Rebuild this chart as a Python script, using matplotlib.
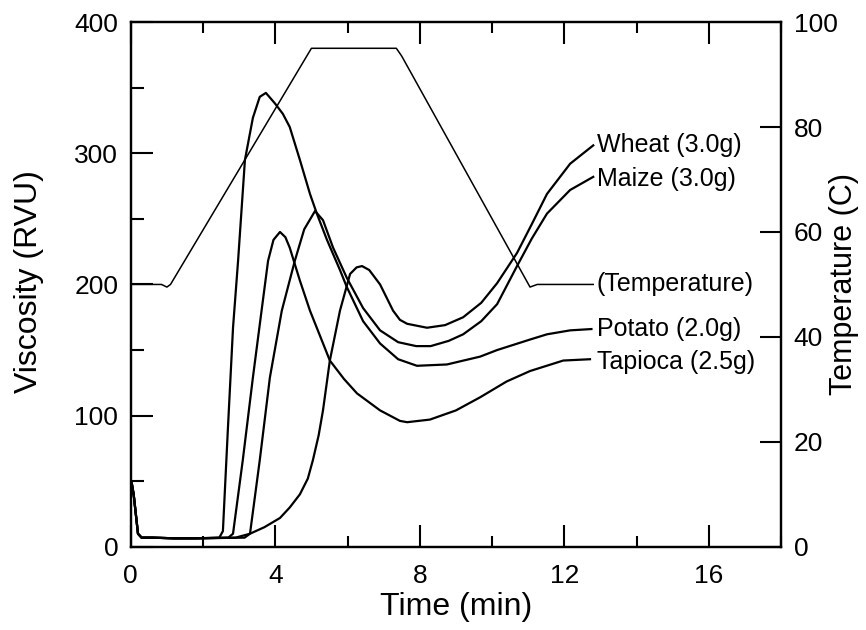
import matplotlib
matplotlib.use("Agg")
import matplotlib.pyplot as plt
from matplotlib.ticker import MultipleLocator

plt.rcParams['font.family'] = ['Liberation Sans', 'DejaVu Sans']

# time (min) / viscosity (RVU)
start_t = [0.0, 0.03, 0.08, 0.2, 0.3, 0.6, 1.2, 1.8]
start_v = [50, 48, 40, 10, 7, 7, 6.5, 6.5]

potato_t = start_t + [2.45, 2.55, 2.69, 2.83, 2.97, 3.16, 3.38, 3.57, 3.74, 3.99, 4.21, 4.40, 4.68,
                      4.96, 5.15, 5.43, 5.79, 5.98, 6.43, 6.9, 7.4, 7.92, 8.75, 9.67, 10.14, 11.05,
                      11.52, 12.16, 12.75]
potato_v = start_v + [7, 12, 91, 167, 218, 295, 327, 343, 346, 338, 330, 320, 295,
                      269, 254, 234, 211, 198, 172, 155, 143, 138, 139, 145, 150, 158,
                      162, 165, 166]

tapioca_t = start_t + [2.7, 2.83, 3.10, 3.38, 3.62, 3.80, 3.95, 4.13, 4.28, 4.40, 4.68, 4.96, 5.51,
                       5.9, 6.26, 6.9, 7.45, 7.65, 8.28, 9.0, 9.67, 10.4, 11.05, 11.97, 12.71]
tapioca_v = start_v + [7, 10, 66, 129, 180, 218, 234, 240, 236, 228, 203, 180, 142,
                       128, 117, 104, 96, 95, 97, 104, 114, 126, 134, 142, 143]

maize_t = start_t + [3.15, 3.30, 3.57, 3.85, 4.18, 4.54, 4.8, 5.1, 5.32, 5.6, 5.98, 6.43, 6.9,
                     7.4, 7.9, 8.3, 8.8, 9.2, 9.7, 10.14, 10.69, 11.1, 11.52, 12.16, 12.8]
maize_v = start_v + [7, 10, 66, 129, 180, 218, 242, 256, 249, 228, 205, 182, 165,
                     156, 153, 153, 157, 162, 172, 185, 214, 235, 254, 272, 282]

wheat_t = start_t + [2.9, 3.3, 3.7, 4.13, 4.4, 4.68, 4.9, 5.04, 5.2, 5.32, 5.51, 5.79, 6.07, 6.25,
                     6.40, 6.6, 6.9, 7.26, 7.45, 7.65, 8.2, 8.7, 9.2, 9.7, 10.14, 10.69, 11.1,
                     11.52, 12.16, 12.8]
wheat_v = start_v + [7, 10, 15, 22, 30, 40, 52, 66, 85, 104, 142, 180, 208, 213,
                     214, 211, 200, 180, 173, 170, 167, 169, 175, 186, 201, 224, 246,
                     269, 292, 306]

temp_t = [0, 0.85, 1.0, 1.1, 5.0, 7.35, 7.5, 11.05, 11.25, 12.8]
temp_c = [50, 50, 49.5, 50, 95, 95, 93.5, 49.5, 50, 50]

labels = ["Wheat (3.0g)", "Maize (3.0g)", "Potato (2.0g)", "Tapioca (2.5g)"]
label_v = [306, 280, 166, 141]

fig = plt.figure(figsize=(8.66, 6.3), dpi=100)
ax = fig.add_axes([0.151, 0.132, 0.751, 0.833])
ax2 = ax.twinx()

for t, v in [(potato_t, potato_v), (tapioca_t, tapioca_v), (maize_t, maize_v), (wheat_t, wheat_v)]:
    ax.plot(t, v, color='black', lw=1.6)
ax2.plot(temp_t, temp_c, color='black', lw=1.1)

ax.set_xlim(0, 18)
ax.set_ylim(0, 400)
ax2.set_ylim(0, 100)

for lab, v in zip(labels, label_v):
    ax.text(12.9, v, lab, fontsize=18, va='center', ha='left')
ax2.text(12.9, 50, "(Temperature)", fontsize=18, va='center', ha='left')

ax.xaxis.set_major_locator(MultipleLocator(4))
ax.xaxis.set_minor_locator(MultipleLocator(2))
ax.yaxis.set_major_locator(MultipleLocator(100))
ax.yaxis.set_minor_locator(MultipleLocator(50))
ax2.yaxis.set_major_locator(MultipleLocator(20))

ax.tick_params(axis='x', which='major', direction='in', length=16, width=1.5, top=True,
               labelsize=19, pad=12)
ax.tick_params(axis='x', which='minor', direction='in', length=8, width=1.5, top=True)
ax.tick_params(axis='y', which='major', direction='in', length=16, width=1.5, labelsize=19, pad=9)
ax.tick_params(axis='y', which='minor', direction='in', length=9, width=1.5)
ax2.tick_params(axis='y', which='major', direction='in', length=15, width=1.5, labelsize=19, pad=9)

for a in (ax, ax2):
    for s in a.spines.values():
        s.set_linewidth(1.6)

ax.set_xlabel("Time (min)", fontsize=23, va='center')
ax.xaxis.set_label_coords(0.5, -0.115)
ax.set_ylabel("Viscosity (RVU)", fontsize=23, va='center')
ax.yaxis.set_label_coords(-0.157, 0.505)
ax2.set_ylabel("Temperature (C)", fontsize=22, va='center')
ax2.yaxis.set_label_coords(1.097, 0.5)

fig.savefig("out.png", dpi=100)
